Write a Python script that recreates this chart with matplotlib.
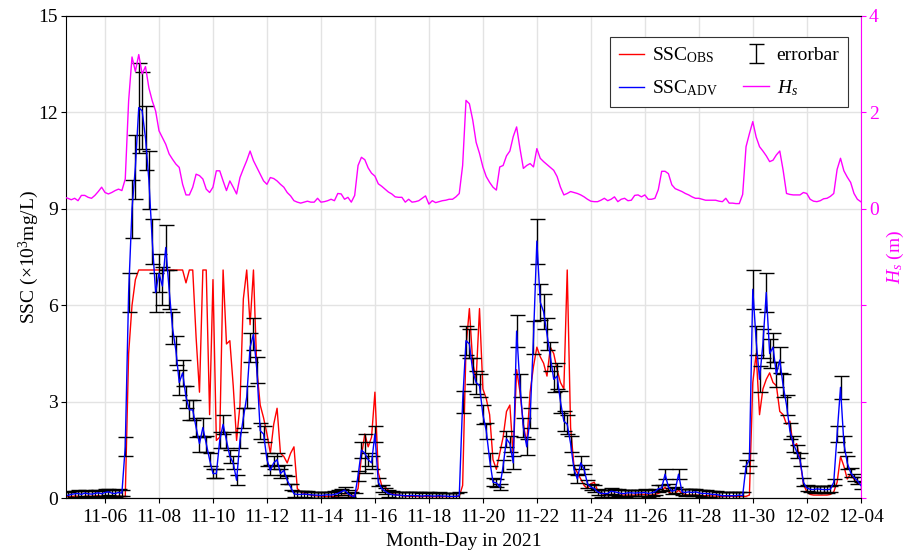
import numpy as np
import pandas as pd
import matplotlib
matplotlib.use("Agg")
import matplotlib.pyplot as plt

plt.rcParams["font.family"] = "Liberation Serif"
plt.rcParams["mathtext.fontset"] = "custom"
plt.rcParams["mathtext.rm"] = "Liberation Serif"
plt.rcParams["mathtext.it"] = "Liberation Serif:italic"
plt.rcParams["font.size"] = 14

# 3-hourly series, first sample 2021-11-04 12:00, one row = one day
ssc_adv = [
    0.10, 0.09, 0.12, 0.14, 0.15, 0.12, 0.16, 0.14,
    0.13, 0.15, 0.17, 0.14, 0.18, 0.20, 0.16, 0.15,
    0.18, 0.16, 1.6, 6.4, 9.0, 10.3, 12.15, 12.05,
    11.2, 9.9, 8.0, 6.4, 7.0, 6.6, 7.8, 6.5,
    5.3, 4.6, 3.6, 3.9, 3.15, 2.75, 2.75, 2.2,
    1.7, 2.2, 1.7, 1.2, 0.77, 0.77, 1.8, 2.3,
    1.8, 1.3, 1.1, 0.56, 1.8, 2.5, 3.15, 4.7,
    5.1, 4.0, 2.1, 2.0, 1.2, 0.87, 1.1, 1.2,
    0.77, 0.87, 0.56, 0.35, 0.14, 0.12, 0.12, 0.13,
    0.12, 0.11, 0.10, 0.10, 0.09, 0.10, 0.11, 0.10,
    0.12, 0.15, 0.20, 0.25, 0.15, 0.08, 0.05, 0.7,
    1.5, 1.4, 1.2, 1.1, 2.0, 0.5, 0.3, 0.22,
    0.15, 0.12, 0.10, 0.10, 0.09, 0.08, 0.08, 0.09,
    0.08, 0.08, 0.07, 0.08, 0.08, 0.07, 0.07, 0.08,
    0.07, 0.07, 0.06, 0.06, 0.06, 0.08, 3.0, 4.9,
    4.8, 3.95, 3.6, 3.5, 2.6, 2.1, 1.2, 0.5,
    0.48, 0.35, 1.0, 1.85, 1.7, 1.1, 5.2, 3.5,
    2.2, 1.6, 2.5, 5.0, 8.0, 6.1, 5.8, 5.1,
    4.4, 3.7, 3.8, 3.0, 2.4, 2.3, 1.7, 0.9,
    0.6, 1.1, 0.9, 0.45, 0.35, 0.3, 0.2, 0.15,
    0.15, 0.15, 0.22, 0.20, 0.18, 0.15, 0.15, 0.17,
    0.17, 0.16, 0.17, 0.17, 0.18, 0.15, 0.17, 0.20,
    0.30, 0.32, 0.75, 0.35, 0.22, 0.25, 0.75, 0.20,
    0.18, 0.20, 0.18, 0.20, 0.17, 0.15, 0.15, 0.14,
    0.12, 0.12, 0.10, 0.08, 0.08, 0.08, 0.08, 0.08,
    0.10, 0.08, 1.0, 1.2, 6.5, 4.9, 3.7, 4.8,
    6.4, 4.5, 4.7, 3.85, 4.3, 3.5, 2.9, 2.1,
    1.7, 1.45, 1.2, 0.5, 0.32, 0.28, 0.27, 0.29,
    0.28, 0.27, 0.27, 0.28, 0.5, 2.0, 3.45, 1.7,
    1.1, 0.8, 0.65, 0.55, 0.4,
]

ssc_err = [
    0.1, 0.1, 0.1, 0.1, 0.1, 0.1, 0.1, 0.1,
    0.1, 0.1, 0.1, 0.1, 0.1, 0.1, 0.1, 0.1,
    0.1, 0.1, 0.3, 0.6, 0.9, 1.0, 1.4, 1.2,
    1.0, 0.9, 0.7, 0.6, 0.6, 0.6, 0.7, 0.6,
    0.5, 0.45, 0.4, 0.4, 0.35, 0.3, 0.3, 0.3,
    0.25, 0.3, 0.25, 0.2, 0.15, 0.15, 0.25, 0.3,
    0.25, 0.2, 0.2, 0.15, 0.25, 0.3, 0.35, 0.45,
    0.5, 0.4, 0.25, 0.25, 0.2, 0.15, 0.2, 0.2,
    0.15, 0.15, 0.12, 0.1, 0.1, 0.1, 0.1, 0.1,
    0.1, 0.1, 0.1, 0.1, 0.1, 0.1, 0.1, 0.1,
    0.1, 0.1, 0.1, 0.1, 0.1, 0.1, 0.1, 0.15,
    0.25, 0.6, 0.2, 0.2, 0.25, 0.12, 0.1, 0.1,
    0.1, 0.1, 0.1, 0.1, 0.1, 0.1, 0.1, 0.1,
    0.1, 0.1, 0.1, 0.1, 0.1, 0.1, 0.1, 0.1,
    0.1, 0.1, 0.1, 0.1, 0.1, 0.1, 0.35, 0.45,
    0.45, 0.4, 0.35, 0.35, 0.3, 0.25, 0.2, 0.12,
    0.12, 0.1, 0.18, 0.25, 0.25, 0.2, 0.5, 0.35,
    0.3, 0.25, 0.3, 0.5, 0.7, 0.55, 0.55, 0.5,
    0.45, 0.4, 0.4, 0.35, 0.3, 0.3, 0.25, 0.15,
    0.12, 0.2, 0.15, 0.12, 0.1, 0.1, 0.1, 0.1,
    0.1, 0.1, 0.1, 0.1, 0.1, 0.1, 0.1, 0.1,
    0.1, 0.1, 0.1, 0.1, 0.1, 0.1, 0.1, 0.1,
    0.1, 0.1, 0.15, 0.1, 0.1, 0.1, 0.15, 0.1,
    0.1, 0.1, 0.1, 0.1, 0.1, 0.1, 0.1, 0.1,
    0.1, 0.1, 0.1, 0.1, 0.1, 0.1, 0.1, 0.1,
    0.1, 0.1, 0.2, 0.2, 0.6, 0.45, 0.4, 0.45,
    0.6, 0.45, 0.45, 0.4, 0.4, 0.35, 0.3, 0.25,
    0.25, 0.2, 0.2, 0.12, 0.1, 0.1, 0.1, 0.1,
    0.1, 0.1, 0.1, 0.1, 0.1, 0.25, 0.35, 0.25,
    0.2, 0.15, 0.12, 0.12, 0.1,
]

ssc_obs = [
    0.05, 0.06, 0.05, 0.07, 0.06, 0.05, 0.06, 0.07,
    0.06, 0.07, 0.08, 0.06, 0.07, 0.08, 0.07, 0.06,
    0.07, 0.06, 0.05, 4.5, 6.0, 6.8, 7.1, 7.1,
    7.1, 7.1, 7.1, 7.1, 7.1, 7.1, 7.1, 7.1,
    7.1, 7.1, 7.1, 7.1, 6.7, 7.1, 7.1, 5.0,
    3.3, 7.1, 7.1, 2.6, 6.8, 1.8, 1.9, 7.1,
    4.8, 4.9, 3.5, 1.8, 2.9, 6.2, 7.1, 5.4,
    7.1, 4.0, 2.9, 2.5, 2.0, 1.4, 2.3, 2.8,
    1.4, 1.3, 1.1, 1.4, 1.6, 0.3, 0.2, 0.15,
    0.12, 0.10, 0.08, 0.07, 0.07, 0.06, 0.06, 0.06,
    0.06, 0.07, 0.08, 0.10, 0.08, 0.06, 0.10, 0.3,
    1.3, 2.0, 1.6, 1.9, 3.3, 0.8, 0.4, 0.35,
    0.25, 0.15, 0.12, 0.10, 0.08, 0.07, 0.06, 0.06,
    0.06, 0.05, 0.05, 0.06, 0.05, 0.05, 0.05, 0.05,
    0.05, 0.05, 0.05, 0.05, 0.06, 0.06, 0.4, 4.7,
    5.9, 4.2, 3.7, 5.9, 3.4, 3.1, 2.6, 1.2,
    0.9, 1.4, 1.9, 2.7, 2.9, 1.3, 4.0, 3.3,
    2.3, 1.7, 3.3, 4.1, 4.7, 4.4, 4.2, 3.8,
    4.7, 4.5, 4.0, 3.6, 3.4, 7.1, 2.2, 1.0,
    0.8, 0.6, 0.4, 0.3, 0.45, 0.5, 0.25, 0.15,
    0.12, 0.10, 0.12, 0.12, 0.10, 0.10, 0.10, 0.10,
    0.10, 0.10, 0.11, 0.12, 0.12, 0.10, 0.10, 0.12,
    0.15, 0.20, 0.35, 0.20, 0.15, 0.15, 0.25, 0.15,
    0.12, 0.10, 0.10, 0.10, 0.10, 0.08, 0.08, 0.08,
    0.07, 0.07, 0.06, 0.06, 0.06, 0.06, 0.06, 0.06,
    0.06, 0.06, 0.06, 0.10, 3.6, 4.5, 2.6, 3.4,
    3.7, 3.9, 3.6, 3.5, 2.7, 2.6, 2.3, 2.4,
    1.6, 1.7, 1.2, 0.45, 0.20, 0.12, 0.10, 0.10,
    0.10, 0.10, 0.10, 0.12, 0.20, 0.5, 1.3, 1.0,
    0.6, 0.75, 0.6, 0.45, 0.5,
]

hs = [
    0.24, 0.22, 0.19, 0.22, 0.17, 0.28, 0.28, 0.24,
    0.22, 0.28, 0.36, 0.45, 0.34, 0.31, 0.34, 0.38,
    0.41, 0.38, 0.62, 2.24, 3.15, 2.85, 3.2, 2.8,
    2.95, 2.51, 2.24, 2.03, 1.62, 1.48, 1.34, 1.14,
    1.03, 0.93, 0.86, 0.51, 0.29, 0.29, 0.45, 0.72,
    0.69, 0.62, 0.41, 0.34, 0.45, 0.79, 0.79, 0.58,
    0.38, 0.58, 0.45, 0.31, 0.65, 0.83, 1.0, 1.2,
    1.0, 0.86, 0.72, 0.58, 0.51, 0.65, 0.63, 0.58,
    0.51, 0.45, 0.34, 0.27, 0.17, 0.14, 0.12, 0.14,
    0.16, 0.14, 0.14, 0.22, 0.14, 0.15, 0.17, 0.20,
    0.17, 0.32, 0.31, 0.20, 0.24, 0.14, 0.28, 0.9,
    1.07, 1.02, 0.85, 0.74, 0.68, 0.52, 0.47, 0.41,
    0.35, 0.31, 0.25, 0.24, 0.24, 0.14, 0.20, 0.14,
    0.15, 0.17, 0.22, 0.27, 0.10, 0.17, 0.13, 0.15,
    0.17, 0.18, 0.20, 0.20, 0.25, 0.32, 0.9, 2.25,
    2.18, 1.84, 1.38, 1.15, 0.87, 0.67, 0.55, 0.45,
    0.39, 0.87, 0.9, 1.1, 1.2, 1.5, 1.7, 1.25,
    0.84, 0.9, 0.94, 0.87, 1.25, 1.05, 0.98, 0.92,
    0.86, 0.80, 0.67, 0.45, 0.29, 0.32, 0.36, 0.34,
    0.32, 0.29, 0.25, 0.20, 0.16, 0.15, 0.15, 0.18,
    0.22, 0.17, 0.20, 0.25, 0.15, 0.20, 0.22, 0.17,
    0.18, 0.28, 0.29, 0.25, 0.29, 0.20, 0.20, 0.22,
    0.40, 0.78, 0.78, 0.73, 0.50, 0.42, 0.39, 0.36,
    0.32, 0.29, 0.25, 0.22, 0.22, 0.20, 0.18, 0.18,
    0.18, 0.18, 0.16, 0.15, 0.22, 0.12, 0.12, 0.11,
    0.11, 0.30, 1.29, 1.56, 1.81, 1.49, 1.29, 1.2,
    1.1, 0.98, 1.01, 1.12, 1.2, 0.8, 0.32, 0.30,
    0.29, 0.29, 0.29, 0.34, 0.32, 0.20, 0.16, 0.15,
    0.17, 0.21, 0.22, 0.26, 0.32, 0.82, 1.05, 0.79,
    0.66, 0.55, 0.32, 0.20, 0.15,
]

time = pd.date_range("2021-11-04 12:00", periods=len(ssc_adv), freq="3h")
date_ticks = pd.date_range("2021-11-06", "2021-12-04", freq="2D")

fig = plt.figure(figsize=(9.12, 5.55), dpi=100)
ax = fig.add_axes([0.0724, 0.1022, 0.8714, 0.869])
ax2 = ax.twinx()

l_obs, = ax.plot(time, ssc_obs, color="#ff0000", lw=1.0)
eb = ax.errorbar(time, ssc_adv, yerr=ssc_err, fmt="none", ecolor="black",
                 elinewidth=1.0, capsize=5.4, capthick=1.0)
l_adv, = ax.plot(time, ssc_adv, color="#0000ff", lw=1.0)
l_hs, = ax2.plot(time, hs, color="#ff00ff", lw=1.0)

ax.set_xlim(pd.Timestamp("2021-11-04 13:20"), pd.Timestamp("2021-12-04 00:00"))
ax.set_ylim(0, 15)
ax.set_yticks([0, 3, 6, 9, 12, 15])
ax.set_xticks(date_ticks)
ax.set_xticklabels([d.strftime("%m-%d") for d in date_ticks])
ax.grid(True, color="#e3e3e3", lw=1.0)
ax.set_axisbelow(True)
ax.tick_params(direction="out", length=3.5, width=0.8, pad=2.5)
ax.tick_params(axis="x", pad=4.5)
ax.set_xlabel("Month-Day in 2021", labelpad=5)
ax.set_ylabel(r"SSC ($\times$10$^3$mg/L)", labelpad=-2)
ax.spines["right"].set_visible(False)

ax2.set_ylim(-6, 4)
ax2.set_yticks([-6, -4, -2, 0, 2, 4])
ax2.set_yticklabels(["", "", "", "0", "2", "4"])
ax2.tick_params(axis="y", colors="#ff00ff", direction="out", length=3.5, width=0.8, pad=2.5)
ax2.spines["right"].set_color("#ff00ff")
ax2.spines["left"].set_visible(False)
ax2.set_ylabel(r"$H_s$ (m)", color="#ff00ff", labelpad=4)

leg = ax2.legend([l_obs, l_adv, eb, l_hs],
                 [r"SSC$_{\mathrm{OBS}}$", r"SSC$_{\mathrm{ADV}}$", "errorbar", r"$H_s$"],
                 ncol=2, loc="upper right", bbox_to_anchor=(0.984, 0.957),
                 borderaxespad=0, fancybox=False, framealpha=1, edgecolor="#333333",
                 handlelength=1.3, handletextpad=0.4, columnspacing=1.3,
                 borderpad=0.45, labelspacing=0.7, fontsize=14)
leg.get_frame().set_linewidth(0.8)

fig.savefig("out.png", dpi=100)
